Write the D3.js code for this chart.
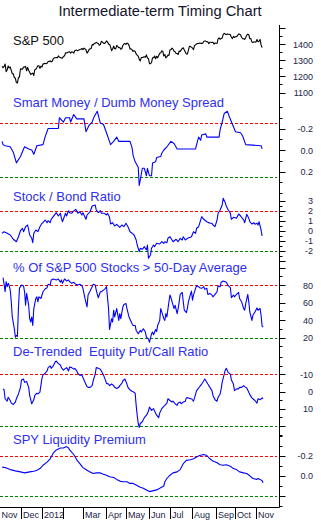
<!DOCTYPE html>
<html><head><meta charset="utf-8">
<script src="https://cdn.jsdelivr.net/npm/d3@7"></script>
<style>
body{margin:0;background:#fff}
svg{display:block}
text{font-family:"Liberation Sans",Arial,sans-serif}
</style>
</head><body>
<svg id="chart" width="321" height="530"></svg>
<script>
// ---------- DATA ----------
const chartTitle = "Intermediate-term Timing Chart";
const monthLabels = ["Nov","Dec","2012","","Mar","Apr","May","Jun","Jul","Aug","Sep","Oct","Nov"];
const monthStartDays = [0,21,42,62,82,104,124,146,167,188,211,230,251]; // trading-day index

// S&P 500 daily closes from trading day 2 (Nov 3 2011) to day 256 (Nov 8 2012)
const spxFirstDay = 2;
const spx = [1261.2,1253.2,1261.1,1275.9,1229.1,1239.7,1263.9,1251.8,1257.8,1236.9,1216.1,1215.7,1192.9,1188.0,1161.8,1158.7,1192.6,1195.2,1246.9,
1244.6,1244.3,1257.1,1258.5,1261.0,1234.4,1255.2,1236.5,1225.7,1211.8,1215.8,1219.7,1205.4,1241.3,1243.7,1254.0,1265.3,1265.4,1249.6,1263.0,1257.6,
1277.1,1277.3,1281.1,1277.8,1280.7,1292.1,1292.5,1295.5,1289.1,1293.7,1308.0,1314.5,1315.4,1316.0,1314.7,1326.1,1318.4,1316.3,1313.0,1312.4,
1324.1,1325.5,1344.9,1344.3,1347.1,1350.0,1352.0,1342.6,1351.8,1350.5,1343.2,1358.0,1361.2,1362.2,1357.7,1363.5,1366.0,1367.6,1372.2,1365.7,
1374.1,1369.6,1364.3,1343.4,1352.6,1366.0,1370.9,1371.1,1396.0,1394.3,1402.6,1404.2,1409.8,1405.5,1402.9,1392.8,1397.1,1416.5,1412.5,1405.5,1403.3,1408.5,
1419.0,1413.4,1399.0,1398.1,1382.2,1358.6,1368.7,1387.6,1370.3,1369.6,1390.8,1385.1,1376.9,1378.5,1366.9,1372.0,1390.7,1400.0,1403.4,1397.9,
1405.8,1402.3,1391.6,1369.1,1369.6,1363.7,1354.6,1358.0,1353.4,1338.4,1330.7,1324.8,1304.9,1295.2,1316.0,1316.6,1318.9,1320.7,1317.8,1332.4,1313.3,1310.3,
1278.0,1278.2,1285.5,1315.1,1315.0,1325.7,1308.9,1324.2,1314.9,1329.1,1342.8,1344.8,1358.0,1355.7,1325.5,1335.0,1313.7,1320.0,1331.9,1329.0,1362.2,
1365.5,1374.0,1367.6,1354.7,1352.5,1341.5,1341.5,1334.8,1356.8,1353.6,1363.7,1372.8,1376.5,1362.7,1350.5,1338.3,1337.9,1360.0,1386.0,1385.3,1379.3,
1375.1,1365.0,1391.0,1394.2,1401.4,1402.2,1402.8,1405.9,1404.1,1403.9,1405.5,1415.5,1418.2,1418.1,1413.2,1413.5,1402.1,1411.1,1410.4,1409.3,1410.5,1399.5,1406.6,
1404.9,1403.4,1432.1,1437.9,1429.1,1433.6,1436.6,1460.0,1465.8,1461.2,1459.3,1461.1,1460.3,1460.2,1456.9,1441.6,1433.3,1447.2,1440.7,
1444.5,1445.8,1451.0,1461.4,1460.9,1455.9,1441.5,1432.6,1432.8,1428.6,1440.1,1454.9,1460.9,1457.3,1433.2,1433.8,1413.1,1408.8,1413.0,1411.9,1412.2,
1427.6,1414.2,1417.3,1428.4,1394.5,1377.5];

// Smart Money / Dumb Money spread
const smDays = [2,3,5,10,13,16,20,24,28,31,33,36,42,44,47,57,58,62,64,68,69,72,75,82,84,87,90,92,95,98,101,104,108,111,114,116,127,129,130,132,135,136,137,139,141,143,144,146,148,149,152,153,157,158,160,163,167,170,173,191,192,194,196,197,201,202,214,215,217,219,222,224,227,230,235,237,240,255,256];
const smVals = [-0.08,-0.05,-0.04,-0.03,0.02,0.12,0.06,-0.03,-0.01,0.0,0.04,-0.04,-0.05,-0.12,-0.20,-0.20,-0.30,-0.26,-0.30,-0.30,-0.26,-0.33,-0.29,-0.29,-0.17,-0.23,-0.26,-0.31,-0.36,-0.25,-0.24,-0.16,-0.05,-0.08,-0.12,-0.08,-0.08,-0.02,0.05,0.11,0.16,0.33,0.28,0.17,0.17,0.24,0.17,0.24,0.24,0.12,0.11,0.07,0.06,0.03,0.0,-0.03,-0.08,-0.06,-0.01,-0.01,-0.05,-0.12,-0.09,-0.14,-0.15,-0.12,-0.12,-0.19,-0.26,-0.34,-0.36,-0.31,-0.24,-0.17,-0.16,-0.13,-0.05,-0.04,-0.01];

// Stock / Bond ratio
const sbDays = [2,4,7,10,13,16,18,20,22,23,25,27,29,31,32,33,35,37,39,41,42,44,46,47,49,50,52,55,57,59,60,61,64,65,67,68,70,72,74,76,78,80,81,84,85,88,90,93,94,96,98,99,102,104,105,107,108,110,112,114,117,119,121,123,125,127,129,131,133,134,136,137,139,141,143,144,145,147,148,150,151,153,156,158,160,161,163,164,166,168,169,172,174,176,178,179,181,183,186,187,189,191,192,194,195,197,199,202,205,207,208,210,212,213,215,217,218,220,221,223,225,226,228,231,233,235,236,238,239,241,243,244,246,248,249,251,252,253,255,256];
const sbVals = [-0.28,-0.12,-0.28,-0.45,-0.88,-1.12,-0.62,-0.02,0.22,-0.12,0.38,0.55,-0.45,-0.78,-1.22,-0.28,0.05,-0.12,0.38,0.72,0.78,1.05,0.78,0.98,0.78,1.12,1.38,1.78,1.45,1.72,1.22,0.88,1.72,1.45,1.98,1.78,1.72,1.95,2.12,1.72,1.88,1.55,1.78,1.12,1.55,1.88,2.45,2.55,2.05,1.78,1.98,1.72,1.72,1.55,1.72,1.32,0.65,0.78,0.45,0.62,0.32,0.55,0.38,0.72,0.38,-0.12,-0.28,-0.45,-0.95,-1.45,-2.12,-1.78,-1.88,-1.62,-1.95,-1.45,-2.78,-2.45,-1.78,-1.45,-1.62,-1.28,-1.35,-1.12,-1.28,-1.12,-1.22,-0.78,-0.62,-0.95,-1.12,-0.88,-1.12,-0.78,-0.95,-0.62,-0.95,-0.78,-0.68,-0.62,-0.12,-0.28,0.22,0.38,0.72,1.38,1.12,0.88,0.72,0.72,0.55,0.38,1.05,1.72,2.05,2.55,3.22,2.78,2.45,2.05,1.72,1.12,1.32,1.22,1.65,1.45,1.32,1.05,0.78,1.62,1.22,0.88,0.65,0.78,0.62,0.72,0.55,0.88,0.05,-0.55];

// % of S&P 500 stocks above 50-day average
const pctDays = [3,4,5,6,7,8,9,10,11,12,14,15,16,17,18,19,20,21,23,24,25,26,28,29,30,31,32,33,35,36,37,38,40,42,44,46,47,49,50,52,55,57,59,60,61,63,65,67,68,70,72,74,76,78,80,81,83,85,86,88,90,91,93,94,96,98,99,101,103,104,106,107,109,110,111,112,114,116,117,118,120,121,123,124,126,129,130,132,133,135,137,138,140,142,143,145,146,148,149,150,152,153,154,156,157,158,160,161,162,163,165,166,167,169,170,171,173,174,175,176,178,179,180,182,183,184,186,187,188,189,191,192,194,195,197,199,200,202,203,205,207,208,210,212,213,215,216,218,220,221,223,225,226,228,229,231,233,234,236,238,239,240,242,243,244,246,247,249,251,252,254,255,256,257];
const pctVals = [88.5,80.8,72.3,83.8,78.1,81.9,79.2,74.2,60.8,43.5,30,20.4,22.3,21.2,53.1,76.2,78.1,80,78.8,72.3,56.9,70.4,56.9,41.5,37.7,43.5,33.8,53.1,64.6,66.5,60.8,66.5,64.6,72.3,75.4,76.9,80.8,80,85.8,86.9,85.8,86.9,83.1,85.8,81.9,86.9,84.6,85.8,83.8,81.9,83.1,80.8,80,80.8,79.2,76.2,64.6,55,68.5,73.1,78.1,80.8,80,74.2,65.4,72.3,72.3,74.2,76.2,78.1,53.1,29.2,41.5,37.7,51.2,43.5,53.1,39.6,47.3,41.5,55,57.7,58.8,53.1,43.5,35.8,33.8,33.8,28.1,24.2,28.1,26.2,30,26.2,20.4,18.5,14.6,24.2,26.2,23.1,29.2,26.9,33.8,39.6,53.1,49.2,41.5,39.6,47.3,43.5,60.8,68.5,65.4,56.9,53.1,56.9,47.3,53.1,60.8,69.2,71.5,60.8,51.2,48.5,53.1,60.8,69.2,73.1,62.7,68.5,76.2,79.2,78.1,76.9,76.2,78.1,75,76.2,69.2,70.4,68.5,66.5,69.2,72.3,79.2,78.1,83.1,84.6,83.8,83.1,79.2,76.9,65.4,68.5,66.5,69.2,71.5,64.6,60.8,53.1,51.2,58.8,69.2,60.8,49.2,39.6,45.4,49.2,53.8,51.2,53.1,45.4,33.1,32];

// De-trended equity put/call ratio
const pcDays = [3,4,5,7,8,10,11,13,15,16,18,20,21,23,24,26,28,29,31,33,34,36,37,39,41,42,44,46,47,49,50,52,54,55,57,59,60,62,63,65,67,68,70,72,73,75,76,78,80,81,83,85,86,88,90,91,93,94,96,98,99,101,103,104,106,107,109,111,112,114,116,117,119,120,122,124,125,127,129,130,132,133,134,135,136,137,139,141,143,144,145,146,148,150,151,153,155,156,158,160,161,163,164,166,168,169,171,173,174,176,177,179,181,182,184,186,187,189,190,192,194,195,197,199,200,202,203,205,207,208,210,212,213,215,216,217,219,220,221,223,225,226,228,229,231,233,234,236,238,239,241,243,244,246,247,249,251,252,254,256,257];
const pcVals = [-1.5,-0.9,4.2,5.6,3.3,5.2,6.7,7.5,6.1,4.2,1.4,-2.4,-6.6,-7.2,-5.3,-5.8,-2.4,2.3,7.1,4.8,2.3,1.0,1.4,0.4,-7.7,-9.6,-10.4,-11.9,-13.8,-14.8,-13.4,-14.8,-17.2,-17.6,-16.1,-15.3,-13.8,-12.3,-12.9,-13.8,-11.9,-14.2,-13.8,-12.9,-13.4,-11.9,-10.4,-9.4,-9.6,-8.1,-5.3,-2.8,-2.4,-2.4,-3.4,-6.2,-10,-13.8,-13.4,-12.9,-11.9,-9.6,-6.6,-4.7,-4.3,-3.4,-4.3,-3.4,-2.4,-1.8,-2.4,-3.4,-4.7,-6.2,-7.2,-4.3,-2.4,-0.9,-0.1,0.1,1.0,8.0,13.7,18.5,20.8,18.5,17.5,15.1,13.7,12.8,11.3,9.0,10.9,9.9,11.3,13.7,15.1,12.4,9.9,8.6,8.0,6.7,4.2,5.2,6.1,5.6,7.1,8.0,6.7,6.1,7.1,6.1,5.6,3.7,3.7,4.2,4.2,5.6,3.7,-0.5,-2.0,-2.8,-4.3,-6.2,-7.2,-5.3,-4.3,-2.4,-0.5,2.3,4.8,5.6,3.3,1.4,-1.5,-5.3,-10,-12.3,-13.4,-10.9,-10,-6.6,-4.3,-0.5,-1.5,-1.5,-2.4,-2.4,-3.4,-2.8,-2.0,0.4,1.8,3.7,4.2,5.2,6.7,4.2,4.8,3.7,4.2];

// SPY liquidity premium
const liqDays = [2,5,10,15,20,24,29,33,36,39,42,46,49,52,55,59,62,65,67,68,72,75,78,81,85,88,91,94,98,101,104,107,111,114,117,120,124,127,130,133,137,140,143,146,150,153,156,160,161,163,166,169,173,176,179,182,186,189,192,195,199,202,205,208,212,215,218,221,225,228,231,234,238,241,244,247,251,252,254,256,257];
const liqVals = [-0.085,-0.079,-0.059,-0.046,-0.036,-0.026,-0.036,-0.043,-0.052,-0.069,-0.102,-0.134,-0.167,-0.223,-0.256,-0.275,-0.275,-0.289,-0.275,-0.256,-0.21,-0.157,-0.118,-0.079,-0.052,-0.036,-0.02,-0.026,-0.026,-0.013,-0.003,0.013,0.02,0.039,0.056,0.062,0.062,0.079,0.079,0.095,0.118,0.128,0.144,0.161,0.151,0.144,0.128,0.105,0.062,0.03,-0.003,-0.026,-0.036,-0.059,-0.118,-0.151,-0.157,-0.167,-0.184,-0.2,-0.21,-0.2,-0.167,-0.144,-0.128,-0.108,-0.102,-0.108,-0.092,-0.069,-0.059,-0.036,-0.026,-0.02,0.003,0.03,0.039,0.03,0.039,0.052,0.072];

// axis ticks
const spxTicks = [1100,1200,1300,1400];  const spxTickLabels = ["1100","1200","1300","1400"];
const smTicks = [-0.2,0,0.2];            const smTickLabels = ["-0.2","0.0","0.2"];
const sbTicks = [3,2,1,0,-1,-2];         const sbTickLabels = ["3","2","1","0","-1","-2"];
const pctTicks = [80,60,40,20];          const pctTickLabels = ["80","60","40","20"];
const pcTicks = [-10,0,10];              const pcTickLabels = ["-10","0","10"];
const liqTicks = [-0.2,0];               const liqTickLabels = ["-0.2","0.0"];

// signal levels [overbought(red), oversold(green)]
const smLevels = [-0.25, 0.25];
const sbLevels = [2, -2];
const pctLevels = [80, 20];
const pcLevels = [-10, 20];
const liqLevels = [-0.2, 0.2];

// ---------- DRAW ----------
const svg = d3.select("#chart");
const axisX = 279.5, axisTop = 25, axisBottom = 507.5, labelRight = 313;
const x = d3.scaleLinear().domain([0, 272.5]).range([0, 279]);
const INK = "#1c2448", BLUE = "#2f2ff0";

svg.append("text").attr("x", 160).attr("y", 16).attr("text-anchor", "middle")
  .attr("font-size", 14.7).attr("fill", "#141428").text(chartTitle);

const spxDays = spx.map((d, i) => spxFirstDay + i);
const panels = [
  {name:"S&P 500", nameColor:"#111", nameY:45, days:spxDays, vals:spx, color:"#000",
   y:d3.scaleLinear().domain([1100,1400]).range([92.5,44]), ticks:spxTicks, labels:spxTickLabels,
   major:[1100,1200,1300,1400,1500], minor:[1150,1250,1350,1450], levels:null},
  {name:"Smart Money / Dumb Money Spread", nameY:106.5, days:smDays, vals:smVals, color:"#0000ff",
   y:d3.scaleLinear().domain([-0.2,0.2]).range([128.5,171.5]), ticks:smTicks, labels:smTickLabels,
   major:[-0.2,0,0.2], minor:[-0.4,-0.3,-0.1,0.1,0.3,0.4], levels:smLevels},
  {name:"Stock / Bond Ratio", nameY:200.5, days:sbDays, vals:sbVals, color:"#0000ff",
   y:d3.scaleLinear().domain([-2,2]).range([250.5,210.5]), ticks:sbTicks, labels:sbTickLabels,
   major:[-3,-2,-1,0,1,2,3], minor:[-2.5,-1.5,-0.5,0.5,1.5,2.5], levels:sbLevels},
  {name:"% Of S&P 500 Stocks > 50-Day Average", nameY:271.5, days:pctDays, vals:pctVals, color:"#0000ff",
   y:d3.scaleLinear().domain([20,80]).range([337.5,285]), ticks:pctTicks, labels:pctTickLabels,
   major:[20,40,60,80,100], minor:[10,30,50,70,90], levels:pctLevels},
  {name:"De-Trended\u00a0 Equity Put/Call Ratio", nameY:356, days:pcDays, vals:pcVals, color:"#0000ff",
   y:d3.scaleLinear().domain([-10,20]).range([374.2,426.1]), ticks:pcTicks, labels:pcTickLabels,
   major:[-10,0,10,20], minor:[-20,-15,-5,5,15,25], levels:pcLevels},
  {name:"SPY Liquidity Premium", nameY:444, days:liqDays, vals:liqVals, color:"#0000ff",
   y:d3.scaleLinear().domain([-0.2,0.2]).range([455.5,495.5]), ticks:liqTicks, labels:liqTickLabels,
   major:[-0.2,0,0.2], minor:[-0.4,-0.3,-0.1,0.1,0.3], levels:liqLevels}
];

// axes frame
svg.append("line").attr("x1", axisX).attr("x2", axisX).attr("y1", axisTop).attr("y2", axisBottom)
  .attr("stroke", "#000").attr("stroke-width", 1);
svg.append("line").attr("x1", 0).attr("x2", axisX).attr("y1", axisBottom).attr("y2", axisBottom)
  .attr("stroke", "#000").attr("stroke-width", 1);

panels.forEach(p => {
  const g = svg.append("g");
  // signal levels
  if (p.levels) {
    const cols = ["#ff0000", "#008000"];
    p.levels.forEach((lv, i) => {
      const yy = Math.round(p.y(lv)) + 0.5;
      g.append("line").attr("x1", 0).attr("x2", 277).attr("y1", yy).attr("y2", yy)
        .attr("stroke", cols[i]).attr("stroke-width", 1).attr("stroke-dasharray", "3,2");
    });
  }
  // ticks
  p.major.forEach(v => {
    const yy = Math.round(p.y(v)) + 0.5;
    g.append("line").attr("x1", axisX).attr("x2", axisX + 6).attr("y1", yy).attr("y2", yy).attr("stroke", "#000");
  });
  p.minor.forEach(v => {
    const yy = Math.round(p.y(v)) + 0.5;
    g.append("line").attr("x1", axisX).attr("x2", axisX + 3).attr("y1", yy).attr("y2", yy).attr("stroke", "#000");
  });
  p.ticks.forEach((v, i) => {
    g.append("text").attr("x", labelRight).attr("y", p.y(v)).attr("dy", "0.4em")
      .attr("text-anchor", "end").attr("font-size", 9).attr("fill", INK).text(p.labels[i]);
  });
  // series
  const pts = p.days.map((d, i) => [d, p.vals[i]]).filter(d => d[1] !== undefined);
  const line = d3.line().x(d => x(d[0])).y(d => p.y(d[1]));
  g.append("path").attr("d", line(pts)).attr("fill", "none")
    .attr("stroke", p.color).attr("stroke-width", 1.1).attr("stroke-linejoin", "round");
  // name
  g.append("text").attr("x", 13).attr("y", p.nameY).attr("font-size", 13)
    .attr("fill", p.nameColor || BLUE).text(p.name);
});

// month axis
monthStartDays.forEach((d, i) => {
  const xx = Math.round(x(d - 0.5)) + 0.5;
  if (d > 0) {
    svg.append("line").attr("x1", xx).attr("x2", xx).attr("y1", axisBottom).attr("y2", 519)
      .attr("stroke", "#000").attr("stroke-width", 1);
  }
  if (monthLabels[i]) {
    svg.append("text").attr("x", d > 0 ? xx + 1.5 : 1.5).attr("y", 518).attr("font-size", 9)
      .attr("fill", INK).text(monthLabels[i]);
  }
});
</script>
</body></html>
